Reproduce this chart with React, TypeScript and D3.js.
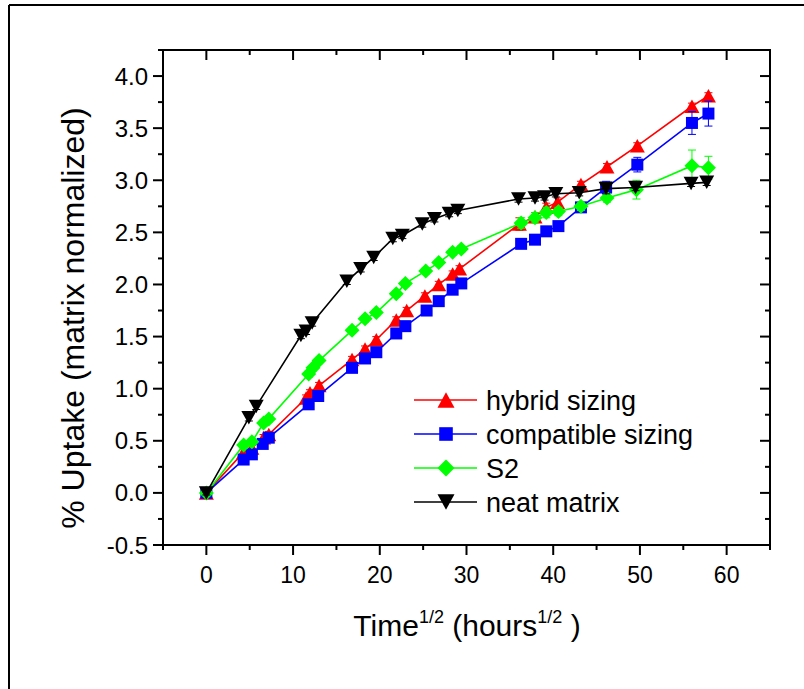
import React from "react";
import * as d3 from "d3";

// ---- Data ----
const hybridX = [0, 4.3, 5.25, 6.6, 7.2, 11.5, 11.95, 13.0, 16.8, 18.3, 19.6, 21.9, 23.1, 25.2, 26.8, 28.4, 29.2, 36.1, 37.9, 39.2, 40.5, 43.2, 46.2, 49.7, 56.0, 57.9];
const hybridY = [0, 0.39, 0.43, 0.53, 0.56, 0.91, 0.96, 1.03, 1.28, 1.38, 1.47, 1.66, 1.75, 1.89, 2.0, 2.1, 2.15, 2.58, 2.65, 2.74, 2.79, 2.96, 3.13, 3.33, 3.71, 3.81];
const hybridErr = [0.02, 0.03, 0.03, 0.03, 0.03, 0.03, 0.03, 0.03, 0.03, 0.03, 0.03, 0.03, 0.03, 0.03, 0.03, 0.03, 0.03, 0.06, 0.04, 0.04, 0.04, 0.03, 0.03, 0.03, 0.03, 0.03];

const compatX = [0, 4.3, 5.25, 6.5, 7.2, 11.8, 12.9, 16.8, 18.3, 19.6, 21.9, 22.95, 25.4, 26.8, 28.4, 29.4, 36.3, 37.9, 39.2, 40.6, 43.2, 46.1, 49.7, 56.0, 57.9];
const compatY = [0, 0.32, 0.37, 0.47, 0.53, 0.85, 0.93, 1.2, 1.29, 1.35, 1.53, 1.6, 1.75, 1.84, 1.95, 2.01, 2.39, 2.43, 2.51, 2.56, 2.74, 2.93, 3.15, 3.55, 3.64];
const compatErr = [0.02, 0.03, 0.03, 0.03, 0.03, 0.03, 0.03, 0.03, 0.03, 0.03, 0.03, 0.03, 0.03, 0.03, 0.03, 0.04, 0.04, 0.03, 0.04, 0.04, 0.04, 0.06, 0.07, 0.11, 0.12];

const s2X = [0, 4.3, 5.25, 6.6, 7.2, 11.8, 12.3, 13.0, 16.8, 18.3, 19.6, 21.9, 22.95, 25.3, 26.8, 28.4, 29.4, 36.3, 37.9, 39.2, 40.6, 43.2, 46.2, 49.6, 56.0, 57.9];
const s2Y = [0, 0.46, 0.49, 0.67, 0.71, 1.14, 1.2, 1.27, 1.56, 1.67, 1.73, 1.91, 2.01, 2.13, 2.21, 2.31, 2.34, 2.59, 2.64, 2.69, 2.7, 2.75, 2.83, 2.91, 3.14, 3.12];
const s2Err = [0.02, 0.03, 0.03, 0.03, 0.03, 0.03, 0.03, 0.03, 0.03, 0.03, 0.03, 0.03, 0.03, 0.03, 0.03, 0.03, 0.03, 0.05, 0.05, 0.05, 0.04, 0.04, 0.04, 0.09, 0.15, 0.11];

const neatX = [0, 4.9, 5.75, 10.9, 11.5, 12.2, 16.2, 17.8, 19.3, 21.5, 22.6, 24.9, 26.3, 28.0, 29.0, 36.0, 37.9, 39.0, 40.3, 43.0, 46.1, 49.5, 55.9, 57.7];
const neatY = [0, 0.72, 0.83, 1.51, 1.55, 1.63, 2.03, 2.15, 2.26, 2.44, 2.47, 2.58, 2.63, 2.68, 2.71, 2.82, 2.83, 2.84, 2.87, 2.88, 2.92, 2.93, 2.97, 2.98];
const neatErr = [0.02, 0.03, 0.03, 0.03, 0.03, 0.03, 0.03, 0.03, 0.03, 0.03, 0.03, 0.03, 0.03, 0.03, 0.03, 0.03, 0.03, 0.03, 0.03, 0.03, 0.05, 0.03, 0.03, 0.03];

const seriesNames = ["hybrid sizing", "compatible sizing", "S2", "neat matrix"];
const seriesColors = ["#ff0000", "#0000ff", "#00ff00", "#000000"];
const seriesShapes = ["up", "square", "diamond", "down"];

const xMajorTicks = [0, 10, 20, 30, 40, 50, 60];
const yMajorTicks = [-0.5, 0, 0.5, 1.0, 1.5, 2.0, 2.5, 3.0, 3.5, 4.0];

const series = [
  { x: hybridX, y: hybridY, e: hybridErr },
  { x: compatX, y: compatY, e: compatErr },
  { x: s2X, y: s2Y, e: s2Err },
  { x: neatX, y: neatY, e: neatErr },
];

const W = 804, H = 689;
const L = 163, R = 770, T = 50, B = 545;
const FONT = "Liberation Sans, Arial, Helvetica, sans-serif";

function markerPath(shape: string, s: number) {
  if (shape === "up") {
    const w = s / 2, h = s * 0.9;
    return `M${-w},${h / 2}L${w},${h / 2}L0,${-h / 2}Z`;
  }
  if (shape === "down") {
    const w = s / 2, h = s * 0.9;
    return `M${-w},${-h / 2}L${w},${-h / 2}L0,${h / 2}Z`;
  }
  if (shape === "diamond") {
    const r = s / 2;
    return `M0,${-r}L${r},0L0,${r}L${-r},0Z`;
  }
  const a = s * 0.4;
  return `M${-a},${-a}L${a},${-a}L${a},${a}L${-a},${a}Z`;
}

export default function App() {
  const x = d3.scaleLinear().domain([-5, 65]).range([L, R]);
  const y = d3.scaleLinear().domain([-0.5, 4.25]).range([B, T]);
  const xMinor = d3.range(-5, 65.01, 5).filter((v) => !xMajorTicks.includes(v));
  const yMinor = d3.range(-0.5, 4.26, 0.25).filter((v) => !yMajorTicks.some((m) => Math.abs(m - v) < 1e-6));
  const fmt = (v: number) => (v < 0 ? "-" : "") + Math.abs(v).toFixed(1);
  const line = d3.line<[number, number]>().x((d) => x(d[0])).y((d) => y(d[1]));

  const legendRows = [400, 434, 468, 502];

  return (
    <svg width={W} height={H} style={{ position: "absolute", left: 0, top: 0, background: "#fff" }}>
      <rect x={0} y={0} width={W} height={H} fill="#fff" />
      {/* outer frame */}
      <line x1={9} y1={5} x2={W} y2={5} stroke="#000" strokeWidth={2} />
      <line x1={9} y1={5} x2={9} y2={H} stroke="#000" strokeWidth={2} />

      {/* series */}
      {series.map((s, i) => {
        const pts = s.x.map((v, j) => [v, s.y[j]] as [number, number]);
        return (
          <g key={i}>
            <path d={line(pts) || ""} fill="none" stroke={seriesColors[i]} strokeWidth={1.6} />
            {pts.map((p, j) => {
              const cx = x(p[0]);
              const y1 = y(p[1] + s.e[j]);
              const y2 = y(p[1] - s.e[j]);
              return (
                <g key={j} stroke={seriesColors[i]} strokeWidth={1}>
                  <line x1={cx} x2={cx} y1={y1} y2={y2} />
                  <line x1={cx - 4} x2={cx + 4} y1={y1} y2={y1} />
                  <line x1={cx - 4} x2={cx + 4} y1={y2} y2={y2} />
                </g>
              );
            })}
            {pts.map((p, j) => (
              <path key={"m" + j} d={markerPath(seriesShapes[i], 15)} transform={`translate(${x(p[0])},${y(p[1])})`} fill={seriesColors[i]} />
            ))}
          </g>
        );
      })}

      {/* axes frame */}
      <rect x={L} y={T} width={R - L} height={B - T} fill="none" stroke="#000" strokeWidth={2} />
      {xMajorTicks.map((v) => (
        <g key={"xm" + v}>
          <line x1={x(v)} x2={x(v)} y1={B} y2={B + 10} stroke="#000" strokeWidth={2} />
          <line x1={x(v)} x2={x(v)} y1={T} y2={T + 10} stroke="#000" strokeWidth={2} />
          <text x={x(v)} y={583} textAnchor="middle" fontFamily={FONT} fontSize={23}>{v}</text>
        </g>
      ))}
      {xMinor.map((v) => (
        <g key={"xn" + v}>
          <line x1={x(v)} x2={x(v)} y1={B} y2={B + 5} stroke="#000" strokeWidth={2} />
          <line x1={x(v)} x2={x(v)} y1={T} y2={T + 5} stroke="#000" strokeWidth={2} />
        </g>
      ))}
      {yMajorTicks.map((v) => (
        <g key={"ym" + v}>
          <line x1={L - 10} x2={L} y1={y(v)} y2={y(v)} stroke="#000" strokeWidth={2} />
          <line x1={R - 10} x2={R} y1={y(v)} y2={y(v)} stroke="#000" strokeWidth={2} />
          <text x={148} y={y(v) + 8.5} textAnchor="end" fontFamily={FONT} fontSize={24}>{fmt(v)}</text>
        </g>
      ))}
      {yMinor.map((v) => (
        <g key={"yn" + v}>
          <line x1={L - 5} x2={L} y1={y(v)} y2={y(v)} stroke="#000" strokeWidth={2} />
          <line x1={R - 5} x2={R} y1={y(v)} y2={y(v)} stroke="#000" strokeWidth={2} />
        </g>
      ))}

      {/* axis titles */}
      <text transform="translate(84,318) rotate(-90)" textAnchor="middle" fontFamily={FONT} fontSize={32}>
        % Uptake (matrix normalized)
      </text>
      <text x={467} y={636} textAnchor="middle" fontFamily={FONT} fontSize={30}>
        Time<tspan fontSize={18} dy={-13}>1/2</tspan><tspan dy={13}> (hours</tspan><tspan fontSize={18} dy={-13}>1/2</tspan><tspan dy={13}> )</tspan>
      </text>

      {/* legend */}
      {seriesNames.map((n, i) => (
        <g key={"lg" + i}>
          <line x1={414} x2={477} y1={legendRows[i]} y2={legendRows[i]} stroke={seriesColors[i]} strokeWidth={1.6} />
          <path d={markerPath(seriesShapes[i], 17)} transform={`translate(446,${legendRows[i]})`} fill={seriesColors[i]} />
          <text x={486} y={legendRows[i] + 10} fontFamily={FONT} fontSize={27}>{n}</text>
        </g>
      ))}
    </svg>
  );
}
